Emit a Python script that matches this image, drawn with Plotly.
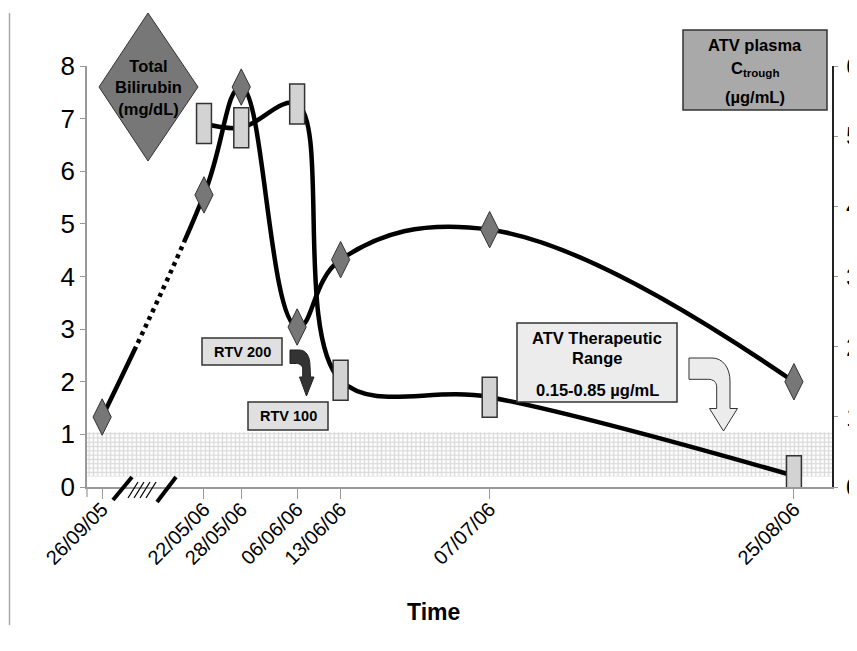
import plotly.graph_objects as go
from datetime import date

# ---------------- data ----------------
dates = ["26/09/05", "22/05/06", "28/05/06", "06/06/06", "13/06/06", "07/07/06", "25/08/06"]
bilirubin = [1.33, 5.55, 7.60, 3.04, 4.32, 4.89, 2.00]          # Total bilirubin, mg/dL (left axis)
atv_dates = ["22/05/06", "28/05/06", "06/06/06", "13/06/06", "07/07/06", "25/08/06"]
atv_ctrough = [5.18, 5.12, 5.46, 1.52, 1.28, 0.16]               # ATV plasma Ctrough, µg/mL (right axis)
band_low, band_high = 0.15, 0.78                                 # therapeutic band as drawn (µg/mL)
left_ticks = [0, 1, 2, 3, 4, 5, 6, 7, 8]
right_ticks = [0, 1, 2, 3, 4, 5, 6]

# ---------------- x positions (date axis with a break) ----------------
def to_date(s):
    d, m, y = map(int, s.split("/"))
    return date(2000 + y, m, d)

ORIGIN = to_date("22/05/06")
BREAK_POS = -16.4          # compressed display position of the pre-break date


def xpos(s):
    dd = (to_date(s) - ORIGIN).days
    return dd if dd >= 0 else BREAK_POS


X_RANGE = [-18.84, 101.13]
bx = [xpos(d) for d in dates]
ax = [xpos(d) for d in atv_dates]

# ---------------- geometry (window pixels; page body has an 8px margin) ----------------
OFF = 8
WIN_W, WIN_H = 857, 651
W, H = WIN_W - OFF, WIN_H - OFF
L, R, T, B = 87, 832, 66, 487      # plot area in window pixels
FONT = "Liberation Sans, Arial, sans-serif"


def P(x, y):
    return (x - L) / (R - L), (B - y) / (B - T)


def path(cmds):
    out = []
    for c, pts in cmds:
        s = c
        for (x, y) in pts:
            px, py = P(x, y)
            s += f" {px:.5f},{py:.5f}"
        out.append(s)
    return " ".join(out) + " Z"


BOX_H = 0.57     # box marker height (right-axis units)
BOX_W = 2.4      # box marker width (days)

fig = go.Figure()

# bilirubin line (with dotted stretch across the axis break)
dots = ",".join(["4px,4.5px"] * 13)
fig.add_trace(go.Scatter(
    x=bx, y=bilirubin, mode="lines", yaxis="y",
    line=dict(color="black", width=4.5, shape="spline", smoothing=1.2,
              dash=f"78px,4px,{dots},4000px,10px"),
    hoverinfo="skip", showlegend=False))

# therapeutic range band (patterned)
fig.add_trace(go.Bar(
    x=[(X_RANGE[0] + X_RANGE[1]) / 2], y=[band_high - band_low], base=[band_low],
    width=[X_RANGE[1] - X_RANGE[0]], yaxis="y2",
    marker=dict(color="white", line=dict(width=0),
                pattern=dict(shape="+", fgcolor="#b4b4b4", bgcolor="white", size=4.3, solidity=0.5)),
    hoverinfo="skip", showlegend=False))

# ATV line
fig.add_trace(go.Scatter(
    x=ax, y=atv_ctrough, mode="lines", yaxis="y2",
    line=dict(color="black", width=4.5, shape="spline", smoothing=1.0),
    hoverinfo="skip", showlegend=False))

# ATV box markers
fig.add_trace(go.Bar(
    x=ax, y=[BOX_H] * len(ax), base=[v - BOX_H / 2 for v in atv_ctrough],
    width=[BOX_W] * len(ax), yaxis="y3",
    marker=dict(color="#d3d3d3", line=dict(color="#333333", width=1.5)),
    hoverinfo="skip", showlegend=False))

# bilirubin diamonds
fig.add_trace(go.Scatter(
    x=bx, y=bilirubin, mode="markers", yaxis="y4",
    marker=dict(symbol="diamond-tall", size=26, color="#777777", line=dict(color="#333333", width=1)),
    hoverinfo="skip", showlegend=False))

shapes = []
annotations = []


def seg(xa, ya, xb, yb, color, w):
    p0, q0 = P(xa, ya)
    p1, q1 = P(xb, yb)
    shapes.append(dict(type="line", xref="paper", yref="paper", x0=p0, y0=q0, x1=p1, y1=q1,
                       line=dict(color=color, width=w)))


# left frame line
seg(9.5, 13, 9.5, 625, "#aaaaaa", 1.5)
# x-axis tick at the axis start
seg(L, B, L, B + 10, "#999999", 1.2)
# axis break marks
for (xa, ya, xb, yb, w) in [(113, 500, 132, 477, 4), (157, 502, 176, 477, 4),
                            (128, 498, 138, 482, 1.2), (134, 498, 144, 482, 1.2),
                            (140, 498, 150, 482, 1.2), (146, 498, 156, 482, 1.2)]:
    seg(xa, ya, xb, yb, "black", w)

# legend diamond
shapes.append(dict(type="path", xref="paper", yref="paper",
                   path=path([("M", [(148, 13)]), ("L", [(198, 87)]), ("L", [(148, 161)]), ("L", [(99, 87)])]),
                   fillcolor="#777777", line=dict(color="#333333", width=1)))

# rectangles: ATV plasma box, RTV boxes, therapeutic range box
for (xa, ya, xb, yb, fc) in [(683, 30, 827, 110, "#a9a9a9"),
                             (202, 338, 282, 365, "#e0e0e0"),
                             (248, 402, 328, 430, "#e0e0e0"),
                             (517, 323, 677, 402, "#ececec")]:
    p0, q0 = P(xa, ya)
    p1, q1 = P(xb, yb)
    shapes.append(dict(type="rect", xref="paper", yref="paper", x0=p0, y0=q0, x1=p1, y1=q1,
                       fillcolor=fc, line=dict(color="#333333", width=1.5)))

# dark RTV arrow
shapes.append(dict(type="path", xref="paper", yref="paper",
                   path=path([("M", [(290, 350)]), ("L", [(299, 350)]),
                              ("C", [(306, 350), (310, 356), (310, 366)]),
                              ("L", [(310.5, 377)]), ("L", [(314, 377)]), ("L", [(306.5, 396)]),
                              ("L", [(299.5, 377)]), ("L", [(302.7, 377)]), ("L", [(302.7, 369)]),
                              ("C", [(302.7, 366), (300, 363.5), (296.5, 363.5)]),
                              ("L", [(290, 363.5)])]),
                   fillcolor="#333333", line=dict(color="#222222", width=1)))

# hollow arrow near therapeutic box
shapes.append(dict(type="path", xref="paper", yref="paper",
                   path=path([("M", [(689, 358)]), ("L", [(712, 358)]),
                              ("C", [(723, 358), (730, 368), (730, 381)]),
                              ("L", [(730, 408.5)]), ("L", [(737.5, 408.5)]), ("L", [(723.5, 431)]),
                              ("L", [(709.5, 408.5)]), ("L", [(716.7, 408.5)]), ("L", [(716.7, 387)]),
                              ("C", [(716.7, 382), (713, 379.3), (708.5, 379.3)]),
                              ("L", [(689, 379.3)])]),
                   fillcolor="#ececec", line=dict(color="#333333", width=1)))


def txt(x, y, text, size, bold=True):
    px, py = P(x, y)
    annotations.append(dict(xref="paper", yref="paper", x=px, y=py, text=(f"<b>{text}</b>" if bold else text),
                            showarrow=False, xanchor="center", yanchor="middle",
                            font=dict(family=FONT, size=size, color="black")))


txt(148, 88, "Total<br>Bilirubin<br>(mg/dL)", 16.5)
txt(755, 45, "ATV plasma", 16.5)
txt(755, 69, "C<sub>trough</sub>", 16.5)
txt(755, 97, "(µg/mL)", 16.5)
txt(242, 352, "RTV 200", 14.5)
txt(288, 416, "RTV 100", 14.5)
txt(597, 338, "ATV Therapeutic", 16.5)
txt(597, 358, "Range", 16.5)
txt(597, 390, "0.15-0.85 µg/mL", 16.5)
txt(433, 612, "Time", 23)

fig.update_layout(
    width=W, height=H,
    margin=dict(l=L - OFF, r=WIN_W - R, t=T - OFF, b=WIN_H - B, pad=0),
    paper_bgcolor="white", plot_bgcolor="white",
    barmode="overlay", showlegend=False,
    font=dict(family=FONT, color="black"),
    xaxis=dict(range=X_RANGE, showgrid=False, zeroline=False, showline=True, linecolor="#999999",
               linewidth=1.5, ticks="outside", ticklen=10, tickcolor="#999999", tickwidth=1.2,
               tickvals=bx, ticktext=dates, tickangle=-45, automargin=False,
               ticklabelstandoff=-9,
               tickfont=dict(family=FONT, size=20, color="black")),
    yaxis=dict(range=[0, 8], tickvals=left_ticks, showgrid=False, zeroline=False, showline=True,
               linecolor="#999999", linewidth=1.5, ticks="outside", ticklen=5, tickcolor="#999999",
               automargin=False, tickfont=dict(family=FONT, size=26, color="black")),
    yaxis2=dict(range=[0, 6], tickvals=right_ticks, overlaying="y", side="right", showgrid=False,
                zeroline=False, showline=True, linecolor="#222222", linewidth=1.5, ticks="outside",
                ticklen=4, tickcolor="#999999", ticklabelstandoff=3, automargin=False,
                tickfont=dict(family=FONT, size=26, color="black")),
    yaxis3=dict(range=[0, 6], overlaying="y", visible=False),
    yaxis4=dict(range=[0, 8], overlaying="y", visible=False),
    shapes=shapes, annotations=annotations,
)

fig.write_html("out.html")
